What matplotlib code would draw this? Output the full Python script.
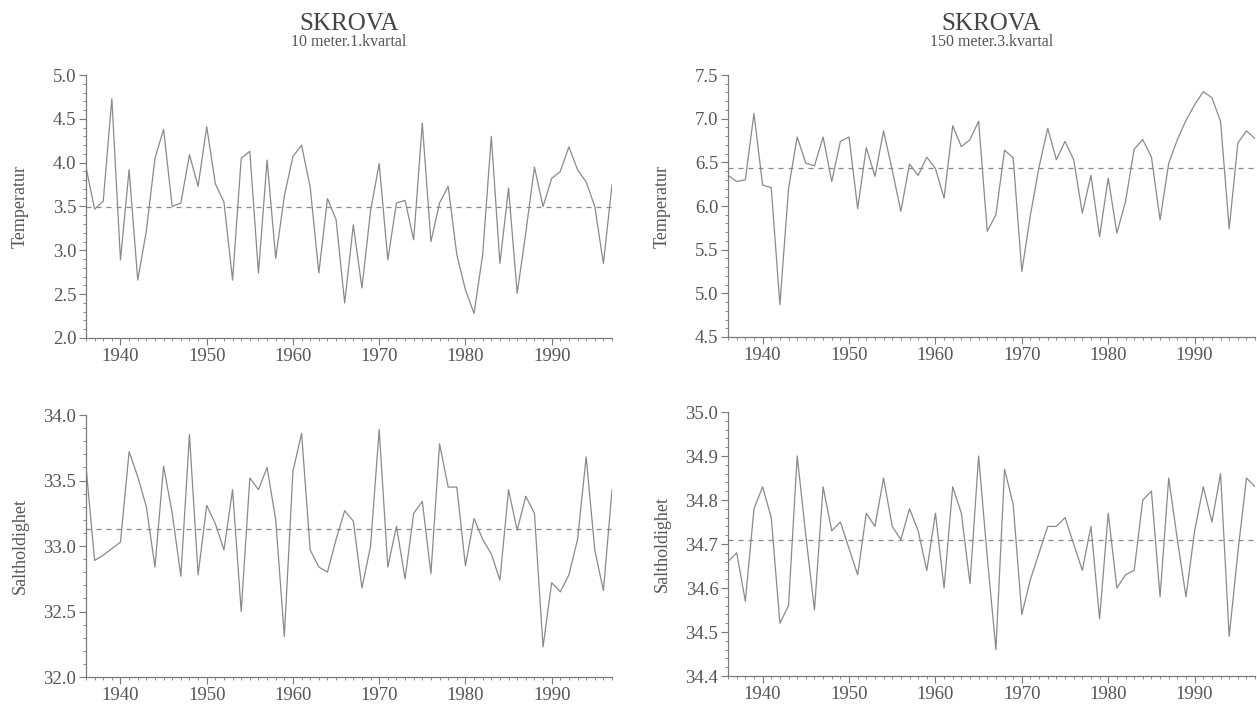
import matplotlib
matplotlib.use('Agg')
import matplotlib.pyplot as plt
from matplotlib.ticker import MultipleLocator

plt.rcParams['font.family'] = ['Liberation Serif', 'DejaVu Serif']

years = list(range(1936, 1998))

temp_10m = [3.95, 3.47, 3.56, 4.73, 2.89, 3.92, 2.66, 3.22, 4.05, 4.38,
            3.50, 3.54, 4.09, 3.73, 4.41, 3.76, 3.55, 2.66, 4.05, 4.13,
            2.74, 4.03, 2.91, 3.62, 4.07, 4.20, 3.72, 2.74, 3.59, 3.35,
            2.40, 3.29, 2.57, 3.45, 3.99, 2.89, 3.54, 3.57, 3.12, 4.45,
            3.10, 3.54, 3.73, 2.95, 2.55, 2.28, 2.95, 4.30, 2.85, 3.71,
            2.51, 3.20, 3.95, 3.50, 3.82, 3.90, 4.18, 3.92, 3.78, 3.50,
            2.85, 3.75]

temp_150m = [6.35, 6.28, 6.30, 7.06, 6.24, 6.21, 4.87, 6.20, 6.79, 6.49,
             6.46, 6.79, 6.28, 6.74, 6.79, 5.97, 6.67, 6.34, 6.86, 6.41,
             5.94, 6.48, 6.35, 6.56, 6.43, 6.09, 6.92, 6.68, 6.76, 6.97,
             5.71, 5.90, 6.64, 6.55, 5.25, 5.90, 6.45, 6.89, 6.53, 6.74,
             6.53, 5.92, 6.35, 5.65, 6.32, 5.69, 6.05, 6.65, 6.76, 6.56,
             5.84, 6.49, 6.76, 6.98, 7.16, 7.31, 7.24, 6.97, 5.74, 6.72,
             6.86, 6.77]

salt_10m = [33.61, 32.89, 32.93, 32.98, 33.03, 33.72, 33.53, 33.30, 32.84, 33.61,
            33.25, 32.77, 33.85, 32.78, 33.31, 33.17, 32.97, 33.43, 32.50, 33.52,
            33.43, 33.60, 33.20, 32.31, 33.57, 33.86, 32.97, 32.84, 32.80, 33.05,
            33.27, 33.19, 32.68, 33.00, 33.89, 32.84, 33.15, 32.75, 33.25, 33.34,
            32.79, 33.78, 33.45, 33.45, 32.85, 33.21, 33.05, 32.94, 32.74, 33.43,
            33.12, 33.38, 33.25, 32.23, 32.72, 32.65, 32.78, 33.05, 33.68, 32.97,
            32.66, 33.43]

salt_150m = [34.66, 34.68, 34.57, 34.78, 34.83, 34.76, 34.52, 34.56, 34.90, 34.72,
             34.55, 34.83, 34.73, 34.75, 34.69, 34.63, 34.77, 34.74, 34.85, 34.74,
             34.71, 34.78, 34.73, 34.64, 34.77, 34.60, 34.83, 34.77, 34.61, 34.90,
             34.67, 34.46, 34.87, 34.79, 34.54, 34.62, 34.68, 34.74, 34.74, 34.76,
             34.70, 34.64, 34.74, 34.53, 34.77, 34.60, 34.63, 34.64, 34.80, 34.82,
             34.58, 34.85, 34.71, 34.58, 34.73, 34.83, 34.75, 34.86, 34.49, 34.68,
             34.85, 34.83]

# long-term means (dashed lines)
mean_temp_10m = 3.49
mean_temp_150m = 6.43
mean_salt_10m = 33.13
mean_salt_150m = 34.71

LINE = '#8a8a8a'
AXIS = '#7a7a7a'
TEXT = '#555555'


def panel(rect, values, mean, ylim, major, minor, ylabel):
    ax = fig.add_axes(rect)
    ax.plot(years, values, color=LINE, linewidth=0.9)
    ax.axhline(mean, color=LINE, linewidth=0.9, linestyle=(0, (4, 4)))
    ax.set_xlim(years[0], years[-1])
    ax.set_ylim(*ylim)
    ax.xaxis.set_minor_locator(MultipleLocator(1))
    ax.set_xticks([1940, 1950, 1960, 1970, 1980, 1990])
    ax.yaxis.set_major_locator(MultipleLocator(major))
    ax.yaxis.set_minor_locator(MultipleLocator(minor))
    ax.yaxis.set_major_formatter('{x:.1f}')
    for side in ['top', 'right']:
        ax.spines[side].set_visible(False)
    for side in ['left', 'bottom']:
        ax.spines[side].set_color(AXIS)
        ax.spines[side].set_linewidth(0.9)
    ax.tick_params(which='major', length=5, width=0.8, color=AXIS,
                   labelsize=13.5, labelcolor=TEXT, pad=2)
    ax.tick_params(which='minor', length=2.5, width=0.6, color=AXIS)
    ax.set_ylabel(ylabel, fontsize=13, color=TEXT)
    ax.yaxis.set_label_coords(-0.109, 0.5)
    ax.patch.set_alpha(0)
    return ax


fig = plt.figure(figsize=(12.57, 7.05), dpi=100)

panel([0.0684, 0.5206, 0.4185, 0.373], temp_10m, mean_temp_10m, (2.0, 5.0),
      0.5, 0.1, 'Temperatur')
panel([0.5792, 0.5220, 0.4193, 0.3716], temp_150m, mean_temp_150m, (4.5, 7.5),
      0.5, 0.1, 'Temperatur')
panel([0.0684, 0.0397, 0.4185, 0.3716], salt_10m, mean_salt_10m, (32.0, 34.0),
      0.5, 0.1, 'Saltholdighet')
panel([0.5792, 0.0411, 0.4193, 0.3745], salt_150m, mean_salt_150m, (34.4, 35.0),
      0.1, 0.02, 'Saltholdighet')

fig.text(0.2777, 0.966, 'SKROVA', ha='center', va='center', fontsize=18, color='#444444')
fig.text(0.2777, 0.941, '10 meter.1.kvartal', ha='center', va='center', fontsize=11.5, color=TEXT)
fig.text(0.7888, 0.966, 'SKROVA', ha='center', va='center', fontsize=18, color='#444444')
fig.text(0.7888, 0.941, '150 meter.3.kvartal', ha='center', va='center', fontsize=11.5, color=TEXT)

fig.savefig('out.png', dpi=100, facecolor='white')
